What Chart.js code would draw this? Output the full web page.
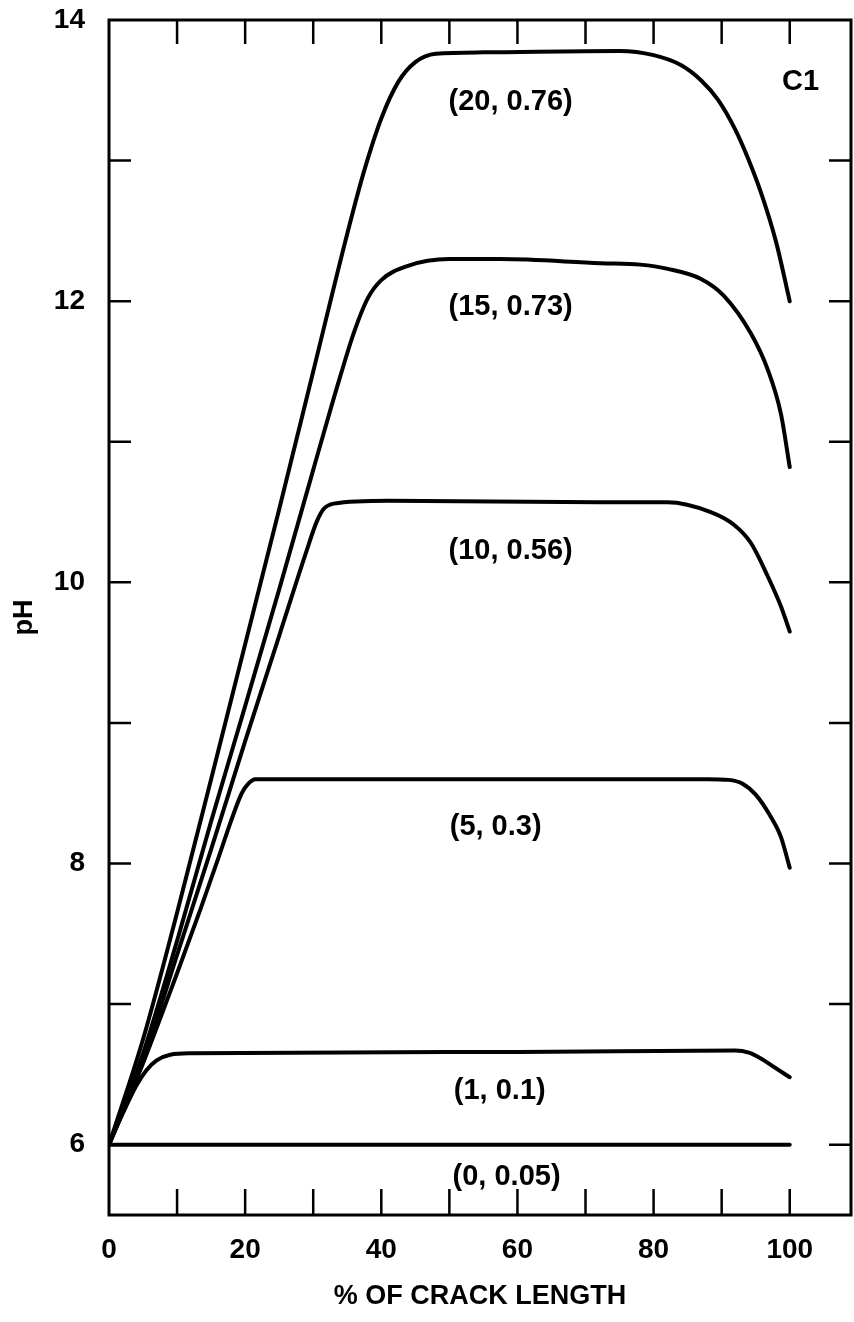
<!DOCTYPE html>
<html>
<head>
<meta charset="utf-8">
<title>pH vs crack length</title>
<script src="https://cdn.jsdelivr.net/npm/chart.js@4.4.0/dist/chart.umd.min.js"></script>
<style>
  html, body { margin: 0; padding: 0; background: #fff; }
  canvas { display: block; }
</style>
</head>
<body>
<canvas id="ph" width="854" height="1322"></canvas>
<script>
// ---- data: % of crack length vs pH, one pair of arrays per curve ----
const x20  = [0, 5, 10, 15, 20, 25, 30, 35, 37.5, 40, 42.5, 45, 48, 55, 75, 80, 84, 87, 89.5, 92, 94, 96, 98, 100];
const ph20 = [6, 6.75, 7.65, 8.6, 9.56, 10.52, 11.5, 12.48, 12.93, 13.3, 13.56, 13.7, 13.76, 13.77, 13.78, 13.75, 13.68, 13.57, 13.43, 13.22, 13.0, 12.74, 12.42, 12.0];

const x15  = [0, 5, 10, 15, 20, 25, 30, 34, 36, 38, 40, 43.8, 50, 57.5, 72.2, 78, 82.1, 86.9, 90.3, 94.3, 96.8, 98.7, 100];
const ph15 = [6, 6.65, 7.45, 8.3, 9.12, 9.95, 10.8, 11.47, 11.78, 12.02, 12.15, 12.25, 12.3, 12.3, 12.27, 12.26, 12.23, 12.16, 12.04, 11.77, 11.51, 11.2, 10.82];

const x10  = [0, 5, 10, 15, 20, 25, 29, 30.5, 31.5, 33, 41, 72, 82, 88.4, 91.8, 94.3, 96.8, 98.7, 100];
const ph10 = [6, 6.6, 7.35, 8.1, 8.87, 9.62, 10.22, 10.43, 10.52, 10.56, 10.58, 10.57, 10.57, 10.5, 10.41, 10.28, 10.04, 9.83, 9.65];

const x5  = [0, 5, 10, 13.4, 16, 18.2, 19.5, 20.5, 21.5, 30, 60, 88, 91, 93, 95, 97, 98.7, 100];
const ph5 = [6, 6.58, 7.22, 7.67, 8.03, 8.34, 8.5, 8.57, 8.6, 8.6, 8.6, 8.6, 8.595, 8.57, 8.49, 8.35, 8.19, 7.97];

const x1  = [0, 2, 4, 5.5, 7, 9, 12, 60, 92, 94, 95.7, 97.6, 100];
const ph1 = [6, 6.22, 6.42, 6.53, 6.6, 6.64, 6.65, 6.66, 6.67, 6.655, 6.615, 6.555, 6.48];

const x0  = [0, 100];
const ph0 = [6, 6];

// curve captions and where they sit (data units)
const captions = ['(20, 0.76)', '(15, 0.73)', '(10, 0.56)', '(5, 0.3)', '(1, 0.1)', '(0, 0.05)', 'C1'];
const captionX = [59, 59, 59, 56.8, 57.4, 58.4, 101.6];
const captionY = [13.42, 11.96, 10.22, 8.26, 6.38, 5.77, 13.56];

// axis labels and tick marks
const xLabels = [0, 20, 40, 60, 80, 100];
const yLabels = [6, 8, 10, 12, 14];
const xMarks = [10, 20, 30, 40, 50, 60, 70, 80, 90, 100];
const yMarks = [6, 7, 8, 9, 10, 11, 12, 13];

const FONT = '"Liberation Sans", Arial, Helvetica, sans-serif';
Chart.defaults.font.family = FONT;
Chart.defaults.color = '#000';

const toPts = (xs, ys) => xs.map((v, i) => ({ x: v, y: ys[i] }));
const curve = (xs, ys) => ({
  data: toPts(xs, ys),
  borderColor: '#000',
  borderWidth: 4,
  pointRadius: 0,
  fill: false,
  cubicInterpolationMode: 'monotone',
  borderCapStyle: 'round',
  borderJoinStyle: 'round'
});

// frame with inward tick marks + curve captions
const frameTicks = {
  id: 'frameTicks',
  afterDatasetsDraw(chart) {
    const { ctx, chartArea: a, scales: { x, y } } = chart;
    ctx.save();
    ctx.strokeStyle = '#000';
    ctx.lineWidth = 3;
    ctx.strokeRect(a.left, a.top, a.right - a.left, a.bottom - a.top);
    ctx.lineWidth = 2.5;
    ctx.beginPath();
    xMarks.forEach(v => {
      const px = x.getPixelForValue(v);
      ctx.moveTo(px, a.bottom); ctx.lineTo(px, a.bottom - 26);
      ctx.moveTo(px, a.top);    ctx.lineTo(px, a.top + 24);
    });
    yMarks.forEach(v => {
      const py = y.getPixelForValue(v);
      ctx.moveTo(a.left, py);  ctx.lineTo(a.left + 22, py);
      ctx.moveTo(a.right, py); ctx.lineTo(a.right - 22, py);
    });
    ctx.stroke();

    ctx.fillStyle = '#000';
    ctx.font = 'bold 29px ' + FONT;
    ctx.textAlign = 'center';
    ctx.textBaseline = 'middle';
    captions.forEach((t, i) => {
      ctx.fillText(t, x.getPixelForValue(captionX[i]), y.getPixelForValue(captionY[i]));
    });
    ctx.restore();
  }
};

new Chart(document.getElementById('ph'), {
  type: 'line',
  data: {
    datasets: [
      curve(x20, ph20), curve(x15, ph15), curve(x10, ph10),
      curve(x5, ph5), curve(x1, ph1), curve(x0, ph0)
    ]
  },
  options: {
    responsive: false,
    animation: false,
    devicePixelRatio: 1,
    layout: { padding: { top: 20, right: 3, left: 0, bottom: 0 } },
    plugins: { legend: { display: false }, tooltip: { enabled: false } },
    scales: {
      x: {
        type: 'linear', min: 0, max: 109,
        grid: { display: false, drawTicks: false },
        border: { display: false },
        afterBuildTicks: s => { s.ticks = xLabels.map(v => ({ value: v })); },
        afterFit: s => { s.height = 107; s.paddingLeft = 0; s.paddingRight = 0; },
        ticks: { padding: 18, maxRotation: 0, font: { size: 28, weight: 'bold' } },
        title: {
          display: true, text: '% OF CRACK LENGTH',
          font: { size: 27, weight: 'bold' }, padding: { bottom: 9 }
        }
      },
      y: {
        type: 'linear', min: 5.5, max: 14,
        grid: { display: false, drawTicks: false },
        border: { display: false },
        afterBuildTicks: s => { s.ticks = yLabels.map(v => ({ value: v })); },
        afterFit: s => { s.width = 109; s.paddingTop = 0; s.paddingBottom = 0; },
        ticks: { padding: 24, font: { size: 28, weight: 'bold' } },
        title: {
          display: true, text: 'pH',
          font: { size: 27, weight: 'bold' }, padding: { top: 8 }
        }
      }
    }
  },
  plugins: [frameTicks]
});
</script>
</body>
</html>
